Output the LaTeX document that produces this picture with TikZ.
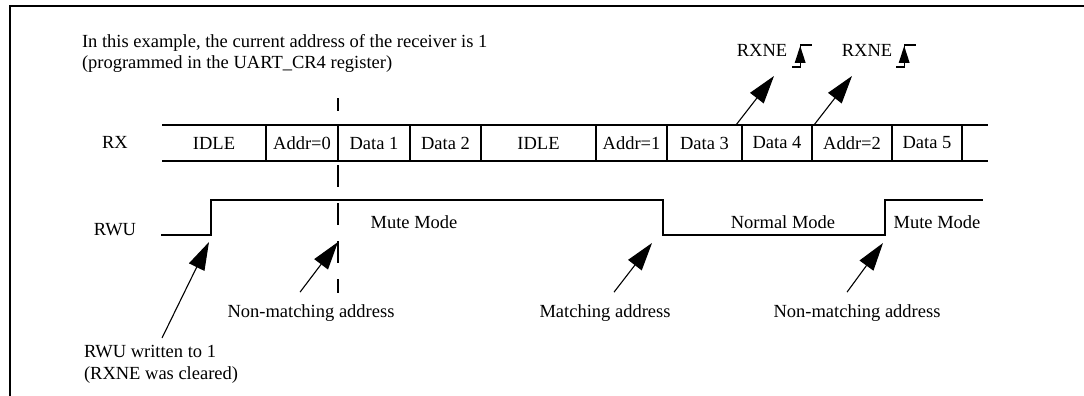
\documentclass[tikz,border=0pt]{standalone}
\usepackage{fontspec}
\setmainfont{Liberation Serif}
\usetikzlibrary{positioning, arrows.meta}

\begin{document}
\begin{tikzpicture}[
  x=1pt, y=-1pt,
  font=\fontsize{18.5}{21.5}\selectfont,
  line width=1.3pt,
  cell/.style={minimum height=36pt, inner sep=0pt, outer sep=0pt},
  lbl/.style={inner sep=0pt, outer sep=0pt},
  pointer/.style={-{Triangle[length=28pt, width=17pt]}, line width=1.1pt},
  marker/.style={dash pattern=on 22pt off 16pt, dash phase=9pt, line width=1.1pt},
  risemark/.pic={
    \draw[line width=1.2pt] (-8,11) -- (0,11) -- (0,-11) -- (12,-11);
    \fill (0,-10) -- (-5.5,7) -- (5.5,7) -- cycle;
  },
]
  \useasboundingbox (0,0) rectangle (1084,396);

  % frame
  \draw[line width=1.8pt] (10,396) -- (10,6) -- (1084,6);

  % note
  \node[lbl, anchor=base west, align=left] (note) at (82,69)
    {In this example, the current address of the receiver is 1\\(programmed in the UART\_CR4 register)};

  % RX frame sequence
  \node[cell, minimum width=104pt, anchor=west] (idleA) at (162,143) {IDLE};
  \node[cell, minimum width=72pt, right=0pt of idleA] (addrA) {Addr=0};
  \node[cell, minimum width=72pt, right=0pt of addrA] (dataA) {Data 1};
  \node[cell, minimum width=71pt, right=0pt of dataA] (dataB) {Data 2};
  \node[cell, minimum width=115pt, right=0pt of dataB] (idleB) {IDLE};
  \node[cell, minimum width=71pt, right=0pt of idleB] (addrB) {Addr=1};
  \node[cell, minimum width=75pt, right=0pt of addrB] (dataC) {Data 3};
  \node[cell, minimum width=70pt, right=0pt of dataC] (dataD) {Data 4};
  \node[cell, minimum width=80pt, right=0pt of dataD] (addrC) {Addr=2};
  \node[cell, minimum width=70pt, right=0pt of addrC] (dataE) {Data 5};
  \node[cell, minimum width=26pt, right=0pt of dataE] (tail) {};

  \draw (idleA.north west) -- (tail.north east);
  \draw (idleA.south west) -- (tail.south east);
  \foreach \c in {idleA, addrA, dataA, dataB, idleB, addrB, dataC, dataD, addrC, dataE}
    \draw (\c.north east) -- (\c.south east);

  \node[lbl] (rx) at (115,142) {RX};

  % RWU level
  \coordinate (wuLow)  at (161,235);
  \coordinate (wuRise) at (211,235);
  \coordinate (wuFall) at (663,235);
  \coordinate (wuMute) at (885,235);
  \draw (wuLow) -- (wuRise) -- (211,200) -- (663,200) -- (wuFall)
        -- (wuMute) -- (885,200) -- (983,200);

  \node[lbl] (rwu) at (115,230) {RWU};
  \node[lbl] (muteA) at (414,222) {Mute Mode};
  \node[lbl] (normal) at (783,222) {Normal Mode};
  \node[lbl] (muteB) at (937,222) {Mute Mode};

  % address boundary
  \draw[marker] (addrA.north east |- 0,98) -- (addrA.north east |- 0,293);
  \coordinate (hitAddr) at (338,242);

  % RXNE flags
  \node[lbl, anchor=base] (rxneA) at (762,57) {RXNE};
  \node[lbl, anchor=base] (rxneB) at (867,57) {RXNE};
  \pic at ([xshift=13pt, yshift=-5pt]rxneA.east) {risemark};
  \pic at ([xshift=12pt, yshift=-5pt]rxneB.east) {risemark};
  \coordinate (hitA) at (774,76);
  \coordinate (hitB) at (852,76);
  \draw[pointer] ([xshift=-6pt]dataC.north east) -- (hitA);
  \draw[pointer] ([xshift=2pt]addrC.north west) -- (hitB);

  % event labels
  \node[lbl, anchor=base west, align=left] (wrote) at (84,379)
    {RWU written to 1\\(RXNE was cleared)};
  \node[lbl, anchor=base] (nomatchA) at (311,317) {Non-matching address};
  \node[lbl, anchor=base] (match) at (605,317) {Matching address};
  \node[lbl, anchor=base] (nomatchB) at (857,317) {Non-matching address};

  \draw[pointer] (162,338) -- ([xshift=-2pt, yshift=-7pt]wuRise);
  \draw[pointer] ([xshift=-11pt, yshift=12pt]nomatchA.north) -- (hitAddr);
  \draw[pointer] ([xshift=9pt, yshift=12pt]match.north) -- ([xshift=-11pt, yshift=-8pt]wuFall);
  \draw[pointer] ([xshift=-10pt, yshift=12pt]nomatchB.north) -- ([xshift=-2pt, yshift=-8pt]wuMute);
\end{tikzpicture}
\end{document}
